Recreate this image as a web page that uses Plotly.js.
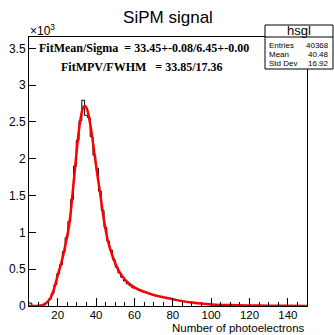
<!DOCTYPE html>
<html><head><meta charset="utf-8">
<script src="https://cdn.plot.ly/plotly-3.0.1.min.js"></script>
<style>html,body{margin:0;padding:0;background:#fff;}#chart{width:334px;height:335px;}</style>
</head><body><div id="chart"></div>
<script>
// Histogram hsgl: 100 bins from 5 to 150
const binLow = 5;
const binHigh = 150;
const binCounts = [
  40, 8, 4, 3, 6, 14, 45, 95, 170, 290,
  440, 560, 740, 930, 1150, 1450, 1900, 2250, 2520, 2795,
  2590, 2560, 2300, 2050, 1870, 1560, 1300, 1070, 880, 760,
  630, 530, 450, 390, 340, 300, 275, 245, 235, 215,
  200, 185, 175, 160, 150, 140, 132, 125, 116, 108,
  100, 92, 86, 78, 71, 64, 59, 53, 48, 44,
  40, 37, 33, 30, 28, 25, 22, 20, 18, 17,
  15, 14, 12, 11, 10, 9, 8, 7, 7, 6,
  5, 5, 4, 4, 3, 3, 3, 2, 2, 2,
  2, 1, 1, 1, 1, 1, 1, 1, 1, 1
];
// Fit curve
const fitX = [5, 8, 10, 12, 14, 16, 18, 20, 22, 24, 26, 28, 30, 31, 32, 33, 34, 35, 36, 37, 38, 40, 42, 44, 46, 48, 50, 52, 55, 58, 62, 66, 70, 75, 80, 85, 90, 100, 110, 120, 130, 140, 150];
const fitY = [0, 1, 3, 12, 40, 100, 230, 420, 600, 830, 1110, 1600, 2140, 2380, 2560, 2680, 2720, 2690, 2600, 2460, 2290, 1900, 1550, 1180, 900, 720, 580, 470, 360, 290, 225, 185, 150, 118, 92, 66, 48, 22, 12, 7, 4, 2, 1];
const yTickVals = [0, 500, 1000, 1500, 2000, 2500, 3000, 3500];
const yTickText = ["0", "0.5", "1", "1.5", "2", "2.5", "3", "3.5"];
const xTickVals = [20, 40, 60, 80, 100, 120, 140];
const statsLabels = ["Entries", "Mean", "Std Dev"];
const statsValues = ["40368", "40.48", "16.92"];
const fitText1 = "FitMean/Sigma  = 33.45+-0.08/6.45+-0.00";
const fitText2 = "FitMPV/FWHM   = 33.85/17.36";

const nb = binCounts.length;
const bw = (binHigh - binLow) / nb;
const edgesX = [], stepY = [];
for (let i = 0; i < nb; i++) { edgesX.push(binLow + i * bw); stepY.push(binCounts[i]); }
edgesX.push(binHigh); stepY.push(binCounts[nb - 1]);

// pixel geometry helpers
const W = 334, H = 335, L = 29, R = 307, T = 37, B = 306;
const px = x => (x - L) / (R - L);
const py = y => (B - y) / (B - T);

const traces = [
  {x: edgesX, y: stepY, type: 'scatter', mode: 'lines', line: {shape: 'hv', color: '#000', width: 1}, hoverinfo: 'skip'},
  {x: fitX, y: fitY, type: 'scatter', mode: 'lines', line: {shape: 'spline', smoothing: 1, color: '#ff0000', width: 2.5}, hoverinfo: 'skip'}
];

const font = 'Liberation Sans, Arial, sans-serif';
const annotations = [
  {xref: 'paper', yref: 'paper', x: px(28), y: py(30), xanchor: 'left', yanchor: 'middle', text: '×10<sup>3</sup>', showarrow: false, font: {family: font, size: 12, color: '#000'}},
  {xref: 'paper', yref: 'paper', x: px(37), y: py(48), xanchor: 'left', yanchor: 'middle', text: '<b>' + fitText1 + '</b>', showarrow: false, font: {family: 'Liberation Serif, Times New Roman, serif', size: 12, color: '#000'}},
  {xref: 'paper', yref: 'paper', x: px(59), y: py(67), xanchor: 'left', yanchor: 'middle', text: '<b>' + fitText2 + '</b>', showarrow: false, font: {family: 'Liberation Serif, Times New Roman, serif', size: 12, color: '#000'}},
  {xref: 'paper', yref: 'paper', x: px(299), y: py(31), xanchor: 'center', yanchor: 'middle', text: 'hsgl', showarrow: false, font: {family: font, size: 13, color: '#000'}},
  {xref: 'paper', yref: 'paper', x: px(307), y: py(328), xanchor: 'right', yanchor: 'middle', text: 'Number of photoelectrons', showarrow: false, font: {family: font, size: 11.5, color: '#000'}}
];
const rowY = [45.5, 54.5, 63.5];
for (let i = 0; i < statsLabels.length; i++) {
  annotations.push({xref: 'paper', yref: 'paper', x: px(267), y: py(rowY[i]), xanchor: 'left', yanchor: 'middle', text: statsLabels[i], showarrow: false, font: {family: font, size: 8, color: '#000'}});
  annotations.push({xref: 'paper', yref: 'paper', x: px(331), y: py(rowY[i]), xanchor: 'right', yanchor: 'middle', text: statsValues[i], showarrow: false, font: {family: font, size: 8, color: '#000'}});
}

const shapes = [
  {type: 'rect', xref: 'paper', yref: 'paper', x0: px(265), x1: px(333), y0: py(25), y1: py(69), line: {color: '#000', width: 1}, fillcolor: '#fff', layer: 'above'},
  {type: 'line', xref: 'paper', yref: 'paper', x0: px(265), x1: px(333), y0: py(37), y1: py(37), line: {color: '#000', width: 1}, layer: 'above'}
];

const layout = {
  width: W, height: H,
  margin: {l: L, r: W - R, t: T, b: H - B, pad: 0},
  paper_bgcolor: '#fff', plot_bgcolor: '#fff',
  showlegend: false,
  title: {text: 'SiPM signal', x: 0.5, xref: 'paper', y: 1 - 17 / H, yanchor: 'middle', font: {family: font, size: 17, color: '#000'}},
  xaxis: {range: [binLow, binHigh], tickvals: xTickVals, ticks: 'inside', ticklen: 8, tickwidth: 1, tickcolor: '#000',
    ticklabelstandoff: -2,
    minor: {dtick: 5, tick0: 0, ticks: 'inside', ticklen: 4, tickcolor: '#000', showgrid: false},
    showline: true, linecolor: '#000', linewidth: 1, mirror: true, showgrid: false, zeroline: false,
    tickfont: {family: font, size: 11.5, color: '#000'}},
  yaxis: {range: [0, 3654], tickvals: yTickVals, ticktext: yTickText, ticks: 'inside', ticklen: 7, tickwidth: 1, tickcolor: '#000',
    showline: true, linecolor: '#000', linewidth: 1, mirror: true, showgrid: false, zeroline: false,
    tickfont: {family: font, size: 12, color: '#000'}},
  annotations: annotations,
  shapes: shapes
};
Plotly.newPlot('chart', traces, layout, {staticPlot: true, displayModeBar: false});
</script></body></html>
